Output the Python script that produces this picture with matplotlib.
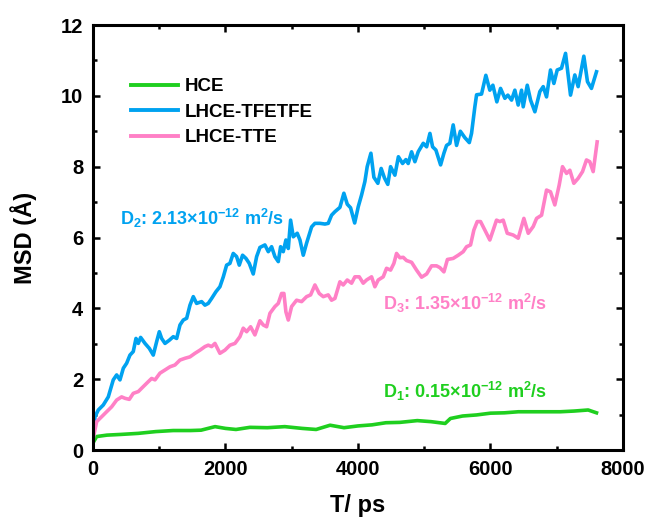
import matplotlib
matplotlib.use("Agg")
import matplotlib.pyplot as plt
from matplotlib.ticker import MultipleLocator

# values
hce_t = [0, 55, 210, 421, 684, 947, 1210, 1474, 1632, 1842, 2000, 2158, 2368,
         2632, 2895, 3158, 3368, 3579, 3789, 4000, 4210, 4421, 4632, 4895,
         5105, 5316, 5395, 5579, 5789, 6000, 6210, 6421, 6632, 6842, 7053,
         7263, 7474, 7600]
hce_msd = [0.2, 0.38, 0.42, 0.44, 0.47, 0.52, 0.55, 0.55, 0.56, 0.66, 0.61,
           0.58, 0.64, 0.63, 0.66, 0.61, 0.58, 0.7, 0.63, 0.68, 0.71, 0.77,
           0.78, 0.83, 0.8, 0.75, 0.89, 0.96, 0.99, 1.04, 1.05, 1.08, 1.08,
           1.08, 1.08, 1.1, 1.13, 1.05]

tfe_t = [0, 30, 80, 155, 231, 306, 357, 407, 458, 508, 558, 608, 649, 684,
         719, 785, 850, 910, 961, 1001, 1036, 1087, 1152, 1212, 1263, 1313,
         1363, 1414, 1464, 1514, 1564, 1640, 1690, 1740, 1791, 1856, 1916,
         1967, 2017, 2067, 2117, 2168, 2208, 2258, 2309, 2359, 2419, 2470,
         2520, 2595, 2646, 2696, 2746, 2797, 2832, 2872, 2912, 2948, 2983,
         3023, 3083, 3124, 3174, 3224, 3300, 3350, 3425, 3501, 3551, 3601,
         3652, 3727, 3787, 3838, 3888, 3950, 4004, 4054, 4104, 4139, 4195,
         4240, 4300, 4350, 4400, 4450, 4492, 4557, 4610, 4673, 4723, 4758,
         4809, 4859, 4909, 4985, 5036, 5086, 5126, 5176, 5247, 5297, 5337,
         5387, 5437, 5488, 5545, 5613, 5680, 5714, 5764, 5790, 5865, 5930,
         5990, 6036, 6096, 6152, 6217, 6262, 6318, 6368, 6418, 6469, 6494,
         6555, 6605, 6670, 6745, 6796, 6846, 6906, 6957, 7007, 7072, 7133,
         7208, 7273, 7323, 7409, 7464, 7524, 7600]
tfe_msd = [0.3, 0.94, 1.13, 1.27, 1.5, 1.98, 2.12, 1.98, 2.31, 2.45, 2.68,
           2.78, 3.15, 3.01, 3.18, 3.01, 2.87, 2.68, 3.06, 3.34, 3.15, 3.01,
           3.1, 3.2, 3.15, 3.53, 3.67, 3.72, 4.09, 4.33, 4.14, 4.19, 4.09,
           4.14, 4.28, 4.47, 4.61, 4.89, 5.22, 5.27, 5.55, 5.46, 5.22, 5.5,
           5.41, 5.27, 4.97, 5.46, 5.72, 5.79, 5.6, 5.74, 5.46, 5.32, 5.74,
           5.6, 5.93, 5.69, 6.49, 6.02, 6.12, 5.93, 5.5, 5.84, 6.3, 6.4, 6.4,
           6.38, 6.4, 6.63, 6.73, 6.85, 7.25, 6.94, 6.84, 6.41, 6.87, 7.2,
           7.58, 8.0, 8.38, 7.7, 7.53, 7.95, 7.68, 7.5, 8.0, 7.76, 8.28, 8.09,
           8.2, 8.09, 8.42, 8.14, 8.42, 8.66, 8.56, 8.94, 8.56, 8.47, 8.05,
           8.38, 8.6, 8.66, 9.18, 8.6, 9.0, 8.82, 8.68, 8.94, 9.69, 10.03,
           10.05, 10.58, 10.16, 10.3, 9.83, 10.21, 9.93, 10.02, 9.88, 10.16,
           9.74, 10.16, 9.69, 10.3, 9.88, 9.55, 10.12, 10.26, 9.97, 10.73,
           10.35, 10.73, 10.78, 11.2, 10.02, 10.59, 10.26, 11.12, 10.4,
           10.21, 10.68]

tte_t = [0, 55, 131, 206, 282, 357, 432, 483, 548, 608, 684, 759, 835, 885,
         936, 1011, 1087, 1162, 1237, 1313, 1389, 1464, 1539, 1615, 1690,
         1740, 1791, 1841, 1916, 1992, 2067, 2143, 2218, 2268, 2319, 2379,
         2444, 2520, 2570, 2621, 2671, 2746, 2797, 2847, 2882, 2912, 2948,
         2998, 3073, 3149, 3224, 3285, 3350, 3415, 3476, 3551, 3601, 3652,
         3727, 3777, 3838, 3903, 3953, 4019, 4079, 4129, 4205, 4255, 4305,
         4381, 4431, 4492, 4542, 4582, 4632, 4683, 4733, 4809, 4884, 4960,
         5036, 5111, 5186, 5236, 5297, 5350, 5437, 5513, 5588, 5639, 5699,
         5749, 5800, 5850, 5915, 5990, 6041, 6091, 6141, 6192, 6253, 6343,
         6418, 6504, 6570, 6645, 6696, 6771, 6846, 6906, 6971, 7037, 7087,
         7148, 7198, 7258, 7323, 7389, 7449, 7499, 7550, 7610]
tte_msd = [0.3, 0.8, 0.94, 1.08, 1.22, 1.41, 1.5, 1.46, 1.43, 1.6, 1.65,
           1.79, 1.93, 2.02, 1.98, 2.17, 2.26, 2.35, 2.4, 2.54, 2.59, 2.63,
           2.73, 2.82, 2.92, 2.96, 2.92, 3.01, 2.73, 2.82, 2.96, 3.01, 3.2,
           3.44, 3.34, 3.48, 3.25, 3.65, 3.53, 3.48, 3.86, 4.05, 4.14, 4.42,
           4.42, 3.9, 3.67, 4.05, 4.23, 4.19, 4.33, 4.38, 4.66, 4.42, 4.33,
           4.38, 4.23, 4.28, 4.75, 4.66, 4.8, 4.71, 4.89, 4.89, 4.71, 4.8,
           4.89, 4.61, 4.8, 4.89, 5.13, 5.08, 5.27, 5.55, 5.43, 5.44, 5.35,
           5.3, 5.08, 4.88, 4.97, 5.2, 5.2, 5.15, 5.03, 5.38, 5.41, 5.5, 5.6,
           5.74, 5.79, 6.21, 6.45, 6.45, 6.21, 5.93, 6.21, 6.49, 6.45, 6.49,
           6.12, 6.07, 5.98, 6.54, 6.12, 6.31, 6.54, 6.63, 7.34, 7.29, 6.92,
           7.48, 8.0, 7.81, 7.9, 7.53, 7.67, 7.86, 8.19, 8.14, 7.86, 8.7]

labels = ["HCE", "LHCE-TFETFE", "LHCE-TTE"]
colors = ["#1fcf1f", "#00a2f0", "#ff80c6"]

plt.rcParams["font.family"] = ["Liberation Sans", "DejaVu Sans"]
plt.rcParams["font.weight"] = "bold"
plt.rcParams["mathtext.fontset"] = "custom"
plt.rcParams["mathtext.rm"] = "Liberation Sans:bold"
plt.rcParams["mathtext.it"] = "Liberation Sans:bold"
plt.rcParams["mathtext.bf"] = "Liberation Sans:bold"

fig = plt.figure(figsize=(6.48, 5.2), dpi=100)
ax = fig.add_axes([0.1435, 0.1346, 0.8179, 0.8173])

ax.plot(hce_t, hce_msd, color=colors[0], lw=2.6, label=labels[0])
ax.plot(tfe_t, tfe_msd, color=colors[1], lw=2.6, label=labels[1])
ax.plot(tte_t, tte_msd, color=colors[2], lw=2.6, label=labels[2])

ax.set_xlim(0, 8000)
ax.set_ylim(0, 12)
ax.xaxis.set_major_locator(MultipleLocator(2000))
ax.xaxis.set_minor_locator(MultipleLocator(1000))
ax.yaxis.set_major_locator(MultipleLocator(2))
ax.yaxis.set_minor_locator(MultipleLocator(1))
ax.tick_params(which="both", direction="in", top=True, right=True, width=1.8)
ax.tick_params(which="major", length=5, labelsize=14.5, pad=7)
ax.tick_params(which="minor", length=3)
for sp in ax.spines.values():
    sp.set_linewidth(2.2)

ax.set_xlabel("T/ ps", fontsize=17, fontweight="bold", labelpad=11)
ax.set_ylabel("MSD (Å)", fontsize=17, fontweight="bold", labelpad=17)

leg = ax.legend(loc="upper left", bbox_to_anchor=(0.072, 0.875), frameon=False,
                fontsize=13.5, handlelength=2.5, handletextpad=0.35,
                labelspacing=0.45, borderpad=0, borderaxespad=0)
for line in leg.get_lines():
    line.set_linewidth(2.8)

ax.text(410, 6.55, r"D$_{2}$: 2.13×10$^{-12}$ m$^{2}$/s", color=colors[1],
        fontsize=13, fontweight="bold", ha="left", va="center")
ax.text(4377, 4.15, r"D$_{3}$: 1.35×10$^{-12}$ m$^{2}$/s", color=colors[2],
        fontsize=13, fontweight="bold", ha="left", va="center")
ax.text(4377, 1.64, r"D$_{1}$: 0.15×10$^{-12}$ m$^{2}$/s", color=colors[0],
        fontsize=13, fontweight="bold", ha="left", va="center")

fig.savefig("out.png", dpi=100)
